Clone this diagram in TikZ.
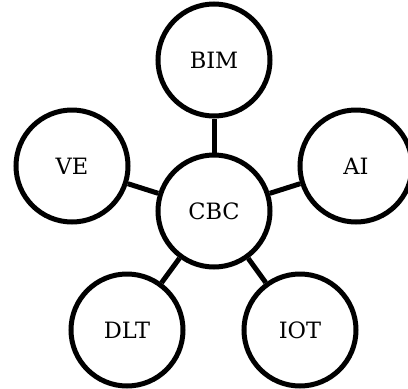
\documentclass[tikz,border=0pt]{standalone}
\usepackage{fontspec}
\setmainfont{DejaVu Serif}
\usetikzlibrary{positioning}
\begin{document}
\begin{tikzpicture}[x=1pt,y=-1pt,
  topic/.style={circle,draw,line width=5pt,minimum size=112pt,inner sep=0pt,
    font=\fontsize{22.5}{27}\selectfont},
  link/.style={line width=5pt}]
\useasboundingbox (0,0) rectangle (408,389);
%\draw[step=50,gray,very thin,dashed](0,0)grid(408,389);

\node[topic] (cbc) at (214,211) {CBC};
\node[topic] (bim) at (214,60) {BIM};
\node[topic] (ve) at (72,166) {VE};
\node[topic] (ai) at (356,166) {AI};
\node[topic] (dlt) at (127,330) {DLT};
\node[topic] (iot) at (300,330) {IOT};

% spokes from the centre
\draw[link] (cbc) -- (bim);
\draw[link] (cbc) -- (ve);
\draw[link] (cbc) -- (ai);
\draw[link] (cbc) -- (dlt);
\draw[link] (cbc) -- (iot);
\end{tikzpicture}
\end{document}
